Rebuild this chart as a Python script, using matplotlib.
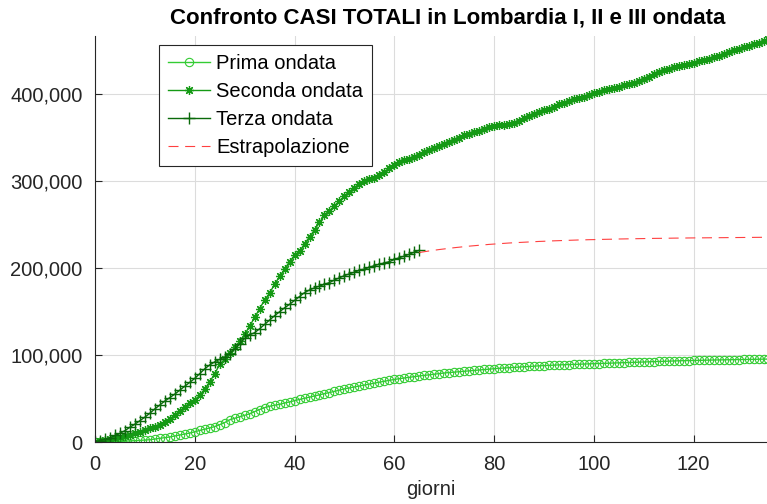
import matplotlib
matplotlib.use('Agg')
import matplotlib.pyplot as plt
from matplotlib.ticker import FuncFormatter
import numpy as np

plt.rcParams['font.family'] = ['Liberation Sans', 'DejaVu Sans']

# casi totali (giorno 0 = inizio di ogni ondata)
prima = [172, 240, 258, 403, 531, 615, 984, 1254, 1520, 1820,
         2251, 2612, 3420, 4190, 5000, 5800, 6900, 7900, 9000, 10300,
         11700, 13300, 14650, 16200, 17700, 19900, 22300, 25500, 27200, 28800,
         30700, 32350, 34900, 37300, 39400, 41000, 42200, 43200, 44800, 46000,
         47500, 48800, 50200, 51500, 52900, 54200, 55500, 56800, 58100, 59600,
         61000, 62100, 63200, 64400, 65500, 66600, 67600, 68700, 69800, 70800,
         71800, 72700, 73500, 74200, 75000, 75800, 76400, 77100, 77800, 78500,
         79200, 79700, 80200, 80800, 81300, 81800, 82300, 82800, 83300, 83800,
         84200, 84600, 84900, 85300, 85700, 86000, 86300, 86700, 87100, 87400,
         87700, 88000, 88200, 88500, 88700, 88900, 89100, 89300, 89500, 89700,
         89900, 90100, 90300, 90500, 90700, 90900, 91100, 91300, 91500, 91700,
         91900, 92100, 92300, 92500, 92700, 92900, 93000, 93200, 93300, 93500,
         93600, 93700, 93900, 94000, 94100, 94200, 94300, 94400, 94500, 94600,
         94700, 94800, 94900, 95000, 95100, 95200]

seconda = [500, 1200, 2000, 3000, 4200, 5500, 7000, 8500, 10200, 12000,
           13800, 15500, 17200, 19000, 22500, 26500, 31000, 35500, 40500, 44500,
           48500, 53500, 61000, 69000, 78500, 89000, 95000, 102000, 108500, 115500,
           123500, 133000, 143000, 153000, 163000, 171000, 181000, 190000, 198500, 207000,
           214500, 219000, 227500, 235500, 243500, 252000, 260000, 265500, 271000, 277000,
           282000, 287000, 292000, 296000, 299000, 301500, 303500, 306000, 309500, 314000,
           318500, 321500, 323500, 325000, 327000, 329000, 332500, 335500, 338000, 340000,
           341500, 344000, 347000, 349500, 352000, 354000, 355500, 357000, 359000, 361000,
           362500, 363500, 364000, 364500, 366000, 368500, 372000, 374500, 376500, 378500,
           380500, 382500, 385000, 387500, 389500, 391500, 393500, 395000, 396500, 398500,
           400500, 402000, 403500, 405000, 406500, 408000, 409500, 411000, 412500, 414000,
           416500, 419500, 422500, 425000, 427000, 428500, 430000, 431000, 432500, 434000,
           435500, 437000, 438500, 440000, 441500, 443500, 445500, 448000, 450000, 451500,
           453000, 454500, 456500, 458500, 460500, 462000]

terza = [500, 1500, 3000, 5000, 7500, 10000, 13000, 17000, 20500, 24500,
         28500, 33000, 38000, 42500, 47000, 51000, 55000, 59500, 64000, 68500,
         73000, 78500, 84000, 88500, 92000, 95000, 97500, 101500, 106500, 112500,
         119000, 123000, 125500, 130000, 135000, 140000, 145000, 149500, 154000, 158000,
         162500, 167000, 171500, 174500, 177000, 179000, 181000, 183000, 186000, 188500,
         191000, 193000, 195000, 197000, 198500, 200500, 202500, 204000, 205500, 207000,
         209500, 211500, 213500, 215500, 218000, 220000]

estrap_start = 65
estrap = [217500, 218400, 219300, 220100, 220900, 221600, 222300, 223000, 223600, 224200,
          224800, 225300, 225800, 226300, 226800, 227200, 227600, 228000, 228400, 228700,
          229000, 229300, 229600, 229900, 230200, 230400, 230700, 230900, 231100, 231300,
          231500, 231700, 231900, 232000, 232200, 232300, 232500, 232600, 232700, 232800,
          233000, 233100, 233200, 233300, 233400, 233500, 233600, 233700, 233750, 233800,
          233900, 234000, 234050, 234100, 234200, 234250, 234300, 234350, 234400, 234450,
          234500, 234550, 234600, 234650, 234700, 234750, 234800, 234850, 234900, 234950,
          235000]

gp = np.arange(len(prima))
gs = np.arange(len(seconda))
gt = np.arange(len(terza))
ge = np.arange(len(estrap)) + estrap_start

fig = plt.figure(figsize=(7.67, 5.04), dpi=100)
ax = fig.add_axes([95/767, 1-442/504, 672/767, 406/504])

ax.plot(gp, prima, '-o', color='#33cc33', mfc='none', ms=6, mew=0.8, lw=1.0, label='Prima ondata')
ax.plot(gs, seconda, '-', marker=(8, 2, 0), color='#159a15', ms=6.5, mew=0.9, lw=1.0,
        label='Seconda ondata')
ax.plot(gt, terza, '-+', color='#0a6a0a', ms=8, mew=1.0, lw=1.0, label='Terza ondata')
ax.plot(ge, estrap, '--', color='#ff4040', lw=0.8, dashes=(9, 6), label='Estrapolazione')

ax.set_xlim(0, 134.7)
ax.set_ylim(0, 466000)
ax.set_xticks([0, 20, 40, 60, 80, 100, 120])
ax.set_yticks([0, 100000, 200000, 300000, 400000])
ax.yaxis.set_major_formatter(FuncFormatter(lambda v, p: '{:,.0f}'.format(v)))

ax.grid(True, color='#dcdcdc', lw=0.8)
ax.set_axisbelow(True)
ax.spines['top'].set_visible(False)
ax.spines['right'].set_visible(False)
for s in ['left', 'bottom']:
    ax.spines[s].set_color('#262626')
    ax.spines[s].set_linewidth(0.8)
ax.tick_params(direction='in', length=5, width=0.8, colors='#262626', labelsize=14.5)
ax.tick_params(axis='x', pad=9)
ax.tick_params(axis='y', pad=9)

ax.set_xlabel('giorni', fontsize=14.5, color='#262626', labelpad=5)
ax.set_title('Confronto CASI TOTALI in Lombardia I, II e III ondata', fontsize=16,
             fontweight='bold', x=(447.5 - 95) / 672, pad=9)

leg = ax.legend(loc='upper left', bbox_to_anchor=(64/672, 397/406), borderaxespad=0,
                fontsize=14.5, fancybox=False, framealpha=1, edgecolor='#262626',
                handlelength=2.1, handletextpad=0.3, borderpad=0.45, labelspacing=0.45,
                numpoints=1)
leg.get_frame().set_linewidth(0.8)

fig.savefig('out.png', dpi=100)
